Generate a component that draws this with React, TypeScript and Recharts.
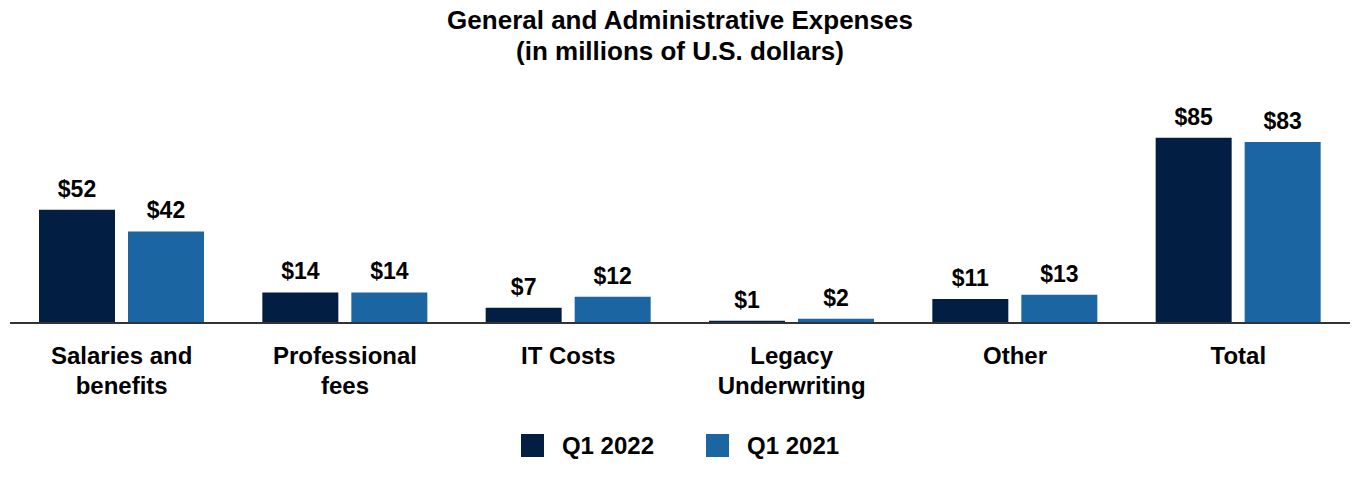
import { BarChart, Bar, XAxis, YAxis, LabelList } from 'recharts';

const categories = ['Salaries and\nbenefits', 'Professional\nfees', 'IT Costs', 'Legacy\nUnderwriting', 'Other', 'Total'];
const q1_2022 = [52, 14, 7, 1, 11, 85];
const q1_2021 = [42, 14, 12, 2, 13, 83];

const SERIES = [
  { key: 'Q1 2022', color: '#021E42' },
  { key: 'Q1 2021', color: '#1B66A2' },
];

const FONT = '"Liberation Sans", Arial, sans-serif';

const data = categories.map((name, i) => ({
  name,
  'Q1 2022': q1_2022[i],
  'Q1 2021': q1_2021[i],
}));

function CategoryTick({ x, y, payload }: any) {
  const lines = String(payload.value).split('\n');
  return (
    <text x={x} y={y} textAnchor="middle" fill="#000" fontSize={24} fontWeight="bold" fontFamily={FONT}>
      {lines.map((line, i) => (
        <tspan key={i} x={x} dy={i === 0 ? 39 : 30}>{line}</tspan>
      ))}
    </text>
  );
}

export default function App() {
  return (
    <div style={{ position: 'absolute', left: 0, top: 0, width: 1360, height: 480, background: '#fff' }}>
      <div
        style={{
          position: 'absolute',
          top: 5,
          left: 0,
          width: 1360,
          textAlign: 'center',
          fontFamily: FONT,
          fontWeight: 'bold',
          fontSize: 26,
          lineHeight: '31px',
          color: '#000',
        }}
      >
        General and Administrative Expenses
        <br />
        (in millions of U.S. dollars)
      </div>
      <BarChart
        width={1360}
        height={480}
        data={data}
        margin={{ top: 105, right: 10, left: 10, bottom: 127 }}
        barCategoryGap={29}
        barGap={13}
      >
        <XAxis
          dataKey="name"
          height={30}
          axisLine={{ stroke: '#333', strokeWidth: 2 }}
          tickLine={false}
          tickSize={0}
          tick={<CategoryTick />}
          interval={0}
        />
        <YAxis hide domain={[0, 100]} />
        {SERIES.map((s) => (
          <Bar key={s.key} dataKey={s.key} fill={s.color} isAnimationActive={false}>
            <LabelList
              dataKey={s.key}
              position="top"
              offset={13}
              formatter={(v: any) => `$${v}`}
              fill="#000"
              fontSize={23}
              fontWeight="bold"
              fontFamily={FONT}
            />
          </Bar>
        ))}
      </BarChart>
      <div
        style={{
          position: 'absolute',
          top: 434,
          left: 0,
          width: 1360,
          display: 'flex',
          justifyContent: 'center',
          gap: 52,
          fontFamily: FONT,
        }}
      >
        {SERIES.map((s) => (
          <div key={s.key} style={{ display: 'flex', alignItems: 'center', height: 23 }}>
            <span style={{ width: 23, height: 23, background: s.color, display: 'inline-block', marginRight: 18 }} />
            <span style={{ fontSize: 24, fontWeight: 'bold', color: '#000' }}>{s.key}</span>
          </div>
        ))}
      </div>
    </div>
  );
}
